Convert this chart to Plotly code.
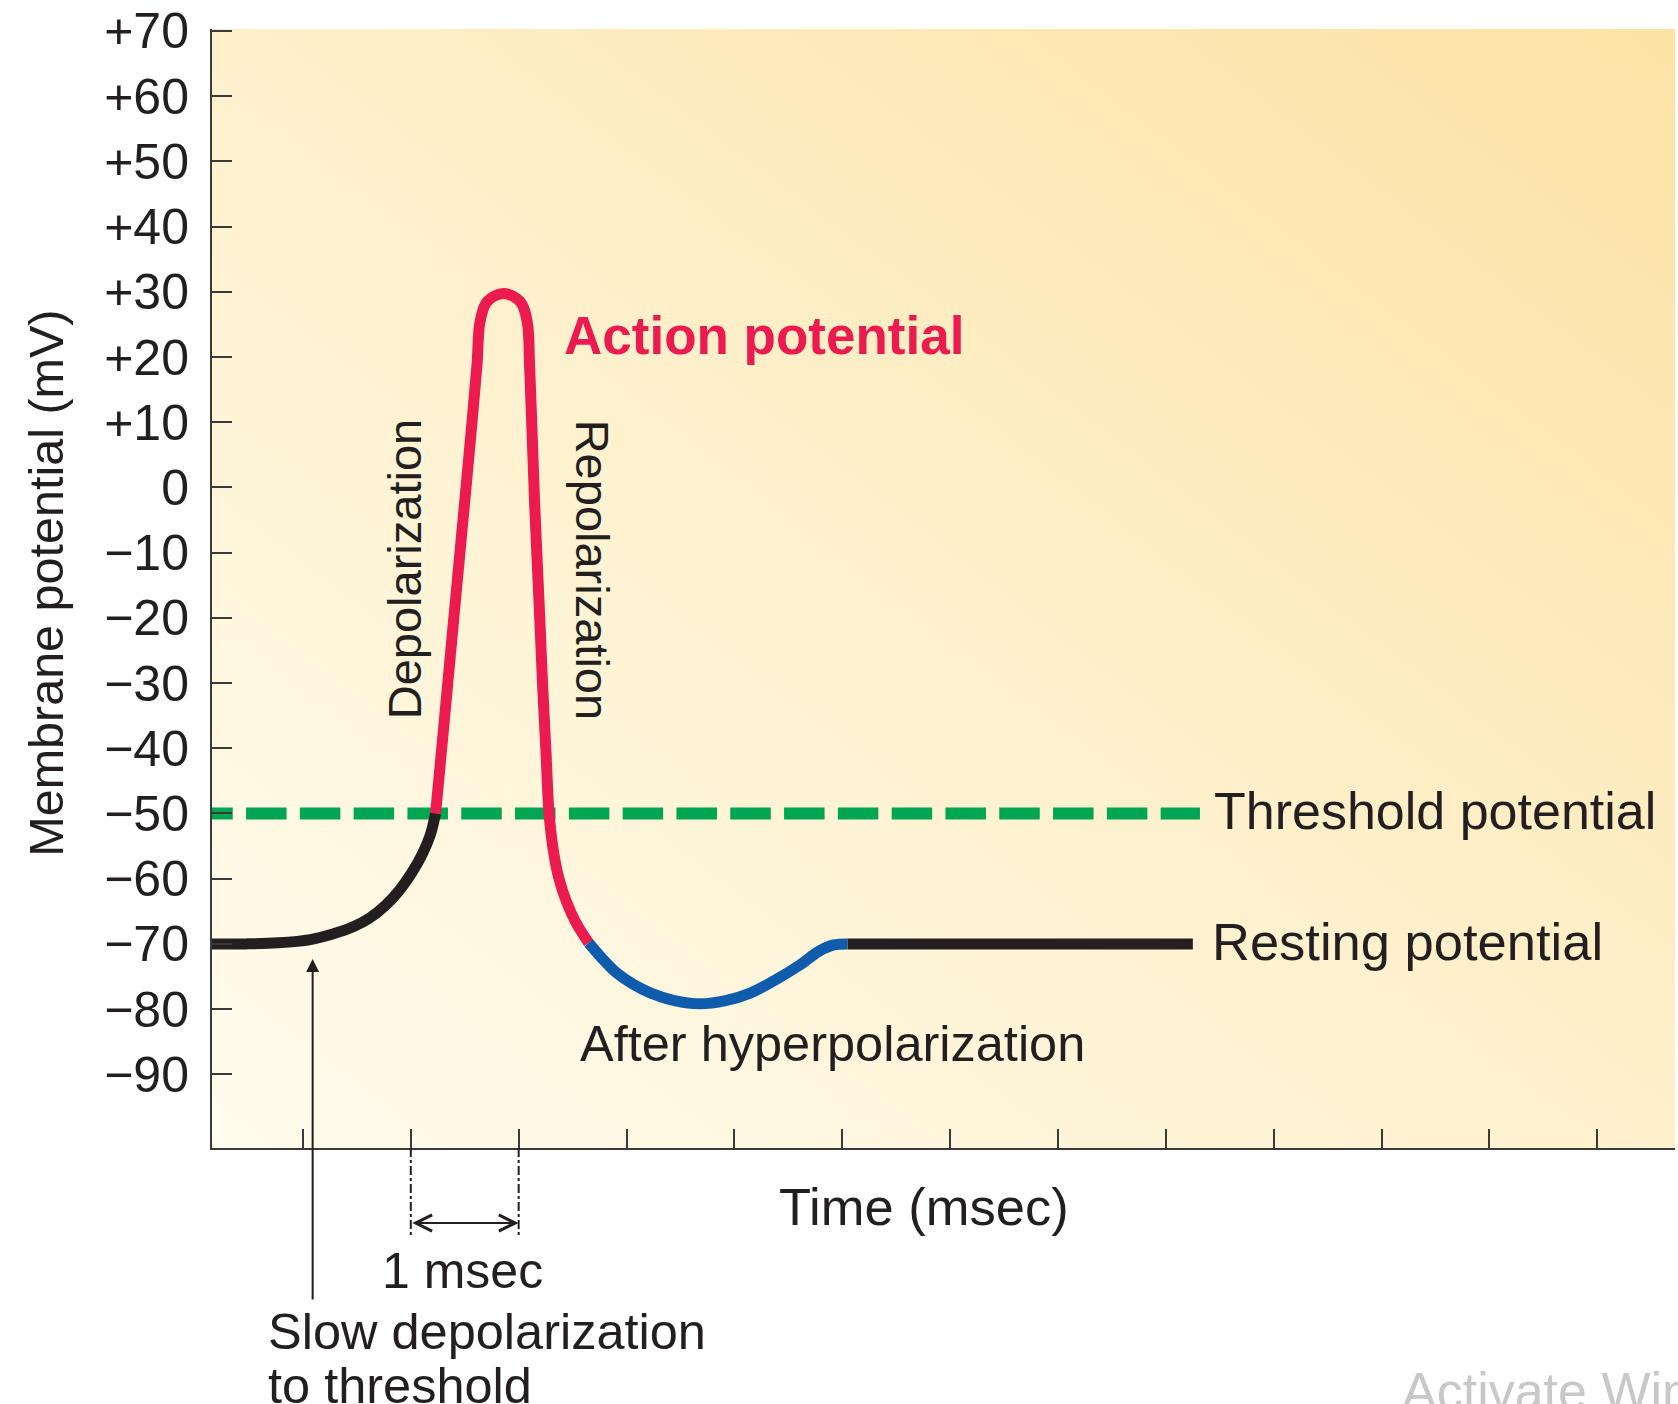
import base64
import plotly.graph_objects as go

# ---------------- data ----------------
rest_pre_t = [0.157, 0.474, 0.772, 1.070, 1.268, 1.466, 1.615, 1.764, 1.893,
              2.012, 2.111, 2.181, 2.230]
rest_pre_v = [-70, -70, -69.84, -69.34, -68.52, -67.38, -66.07, -64.10, -61.80,
              -59.02, -56.07, -53.28, -50]

ap_t = [2.230, 2.308, 2.385, 2.463, 2.537, 2.614, 2.642, 2.707, 2.860, 3.014,
        3.079, 3.101, 3.123, 3.148, 3.188, 3.222, 3.252, 3.282, 3.322, 3.371,
        3.441, 3.530, 3.649]
ap_v = [-50, -36.23, -22.46, -8.69, 4.5, 18.85, 25.41, 28.48, 29.75, 28.48,
        25.41, 18.85, 9.02, -2.46, -17.21, -30.33, -40.16, -50, -55.74, -59.84,
        -63.44, -66.72, -69.84]

ahp_t = [3.649, 3.778, 3.907, 4.066, 4.225, 4.443, 4.681, 4.919, 5.147, 5.375,
         5.603, 5.782, 5.921, 6.050]
ahp_v = [-69.84, -72.30, -74.43, -76.23, -77.54, -78.69, -79.18, -78.69, -77.54,
         -75.57, -73.28, -71.15, -70.16, -70.0]

rest_post_t = [6.05, 9.25]
rest_post_v = [-70, -70]

threshold_t = [-0.026, 9.316]
threshold_v = [-50, -50]

y_tickvals = [70, 60, 50, 40, 30, 20, 10, 0, -10, -20, -30, -40, -50, -60, -70, -80, -90]
y_ticktext = ["+70", "+60", "+50", "+40", "+30", "+20", "+10", "0", "\u221210", "\u221220",
              "\u221230", "\u221240", "\u221250", "\u221260", "\u221270", "\u221280", "\u221290"]
x_tickvals = list(range(1, 14))

# ---------------- style ----------------
X_RANGE = [0.157, 13.72]
Y_RANGE = [-101.3, 70.3]
TXT = "#231F20"
RED = "#EB1A4F"
BLUE = "#0F5CAD"
GREEN = "#00A651"
AXC = "#3A3A3A"
FONT = "Liberation Sans, Arial, Helvetica, sans-serif"


def ypaper(v):
    return (v - Y_RANGE[0]) / (Y_RANGE[1] - Y_RANGE[0])


def xpaper(t):
    return (t - X_RANGE[0]) / (X_RANGE[1] - X_RANGE[0])


fig = go.Figure()

fig.add_trace(go.Scatter(x=threshold_t, y=threshold_v, mode="lines",
                         line=dict(color=GREEN, width=12, dash="40.5px,13.3px"),
                         hoverinfo="skip"))
fig.add_trace(go.Scatter(x=rest_pre_t, y=rest_pre_v, mode="lines",
                         line=dict(color=TXT, width=11, shape="spline", smoothing=1)))
fig.add_trace(go.Scatter(x=ap_t, y=ap_v, mode="lines",
                         line=dict(color=RED, width=11, shape="spline", smoothing=1)))
fig.add_trace(go.Scatter(x=ahp_t, y=ahp_v, mode="lines",
                         line=dict(color=BLUE, width=11, shape="spline", smoothing=1)))
fig.add_trace(go.Scatter(x=rest_post_t, y=rest_post_v, mode="lines",
                         line=dict(color=TXT, width=11)))

# gradient background
svg = ("<svg xmlns='http://www.w3.org/2000/svg' width='100' height='100' viewBox='0 0 100 100' "
       "preserveAspectRatio='none'><defs><linearGradient id='g' x1='0' y1='1' x2='1' y2='0'>"
       "<stop offset='0' stop-color='#FFFCEE'/><stop offset='0.5' stop-color='#FEF0CB'/>"
       "<stop offset='1' stop-color='#FCE2A4'/></linearGradient></defs>"
       "<rect width='100' height='100' fill='url(#g)'/></svg>")
src = "data:image/svg+xml;base64," + base64.b64encode(svg.encode()).decode()
fig.add_layout_image(dict(source=src, xref="paper", yref="paper", x=0, y=1,
                          sizex=1, sizey=1, sizing="stretch", layer="below",
                          xanchor="left", yanchor="top"))

ann = []


def add_text(text, x, y, xref="x", yref="y", size=50, color=TXT, angle=0,
             xanchor="center", bold=False):
    t = "<b>%s</b>" % text if bold else text
    ann.append(dict(text=t, x=x, y=y, xref=xref, yref=yref, showarrow=False,
                    font=dict(size=size, color=color, family=FONT),
                    textangle=angle, xanchor=xanchor, yanchor="middle"))


add_text("Membrane potential (mV)", xpaper(-1.39), -14.75, xref="paper", size=48.5, angle=-90)
add_text("Depolarization", 1.943, -12.6, size=47, angle=-90)
add_text("Repolarization", 3.679, -12.6, size=47, angle=90)
add_text("Action potential", 5.27, 23.3, size=53, color=RED, bold=True)
add_text("Threshold potential", 9.43, -49.6, size=52, xanchor="left")
add_text("Resting potential", 9.41, -69.6, size=52.5, xanchor="left")
add_text("After hyperpolarization", 5.911, -85.2, size=50.5)
add_text("Time (msec)", 6.754, ypaper(-110.3), yref="paper", size=52.5)
add_text("1 msec", 2.48, ypaper(-120.2), yref="paper", size=50)
add_text("Slow depolarization", 0.66, ypaper(-129.5), yref="paper", size=50.5, xanchor="left")
add_text("to threshold", 0.66, ypaper(-137.7), yref="paper", size=50.5, xanchor="left")
add_text("Activate Windows", 11.17, ypaper(-138.6), yref="paper", size=52, color="#C8C8C8",
         xanchor="left")

# arrow to slow depolarization
ann.append(dict(text="", x=1.09, y=-72.3, xref="x", yref="y", showarrow=True,
                ax=0, ay=342, axref="pixel", ayref="pixel",
                arrowhead=2, arrowsize=1.3, arrowwidth=2, arrowcolor=TXT))
# 1 msec double arrow
ann.append(dict(text="", x=3, y=ypaper(-112.8), xref="x", yref="paper", showarrow=True,
                ax=-107.9, ay=0, arrowhead=5, startarrowhead=5, arrowside="end+start",
                arrowsize=1.6, startarrowsize=1.6, arrowwidth=2, arrowcolor=TXT))

shapes = []
for t in [2, 3]:
    shapes.append(dict(type="line", xref="x", yref="paper", x0=t, x1=t,
                       y0=0, y1=ypaper(-114.8),
                       line=dict(color=TXT, width=2, dash="dashdot")))

fig.update_layout(
    width=1678, height=1404,
    margin=dict(l=212, r=3, t=27, b=256),
    paper_bgcolor="white", plot_bgcolor="rgba(0,0,0,0)",
    showlegend=False,
    annotations=ann, shapes=shapes,
    font=dict(family=FONT, color=TXT),
    xaxis=dict(range=X_RANGE, showgrid=False, zeroline=False, showline=True,
               linecolor=AXC, linewidth=2, ticks="inside", ticklen=19,
               tickwidth=2, tickcolor=AXC, tickvals=x_tickvals,
               showticklabels=False, fixedrange=True),
    yaxis=dict(range=Y_RANGE, showgrid=False, zeroline=False, showline=True,
               linecolor=AXC, linewidth=2, ticks="inside", ticklen=20,
               tickwidth=2, tickcolor=AXC, tickvals=y_tickvals,
               ticktext=y_ticktext, tickfont=dict(size=50, color=TXT, family=FONT),
               ticklabelstandoff=11, fixedrange=True),
)

fig.write_html("out.html", config={"displayModeBar": False},
               post_script="document.body.style.margin='0';")
